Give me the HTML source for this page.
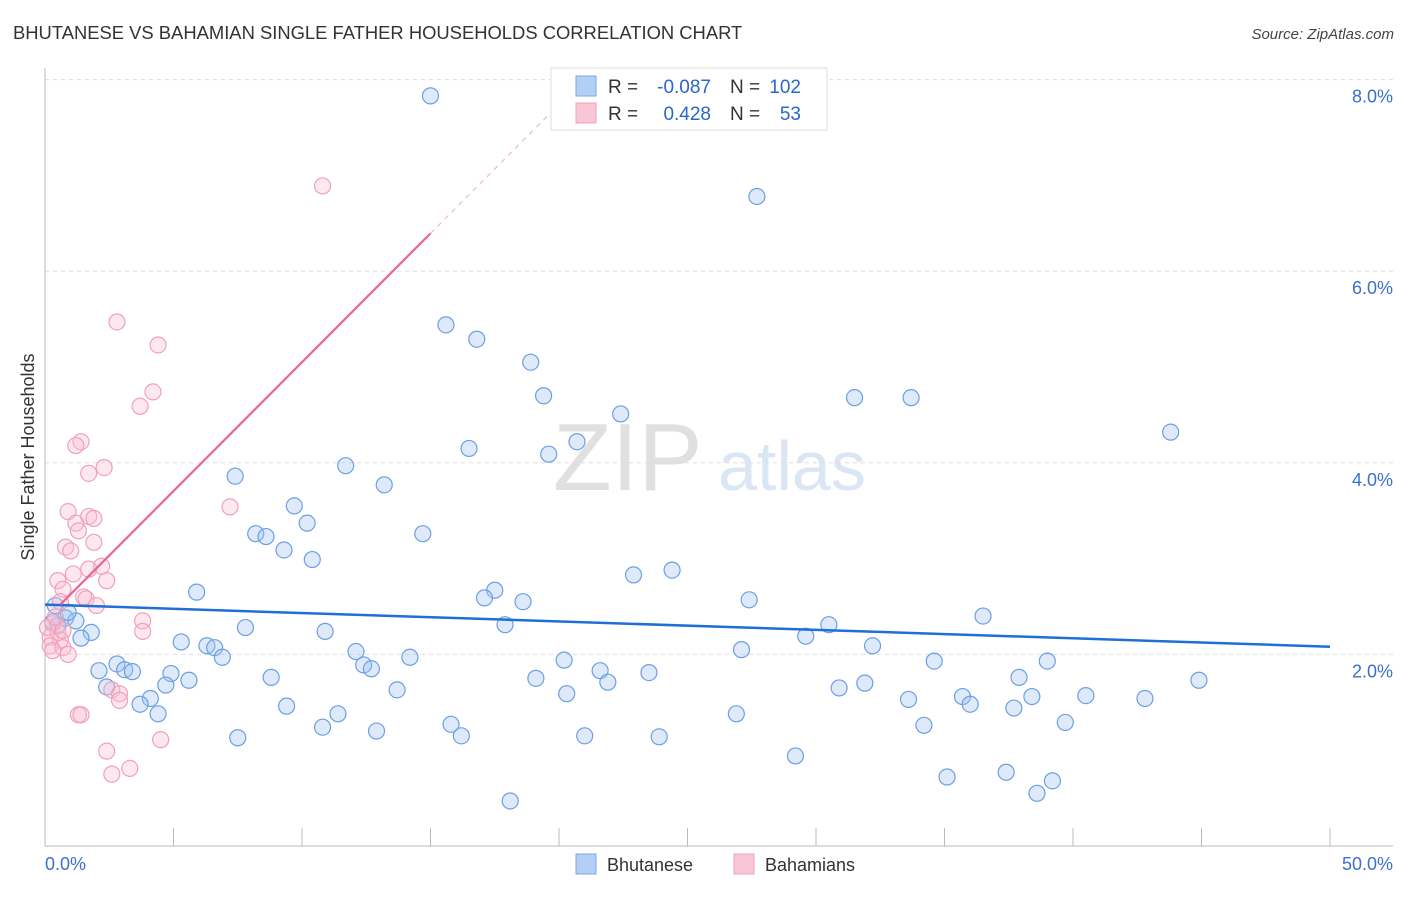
<!DOCTYPE html>
<html><head><meta charset="utf-8"><style>
body{margin:0;background:#fff;font-family:"Liberation Sans",sans-serif;}
svg text{font-family:"Liberation Sans",sans-serif;}
</style></head><body>
<svg id="chart" width="1406" height="892" xmlns="http://www.w3.org/2000/svg">
<text x="13" y="39" font-size="18.4" fill="#333">BHUTANESE VS BAHAMIAN SINGLE FATHER HOUSEHOLDS CORRELATION CHART</text>
<text x="1394" y="39" font-size="15" fill="#444" text-anchor="end" font-style="italic">Source: ZipAtlas.com</text>
<text x="553" y="490" font-size="96" fill="#e0e0e0" font-family="Liberation Serif">ZIP</text>
<text x="718" y="490" font-size="70" fill="#dbe6f5">atlas</text>
<g id="grid"></g>
<g id="axes"></g>
<text transform="translate(34,457) rotate(-90)" font-size="18" fill="#333" text-anchor="middle">Single Father Households</text>
<g id="points"></g>
<g id="trends"></g>
<g>
<rect x="551" y="68" width="276" height="62" fill="#fff" stroke="#ddd"/>
<rect x="576" y="76" width="20" height="20" fill="#b3cff5" stroke="#7aa8e8"/>
<rect x="576" y="103" width="20" height="20" fill="#f9c6d6" stroke="#f0a0bc"/>
<text x="608" y="93" font-size="19" fill="#333">R =</text>
<text x="711" y="93" font-size="19" fill="#2a66cc" text-anchor="end">-0.087</text>
<text x="730" y="93" font-size="19" fill="#333">N =</text>
<text x="801" y="93" font-size="19" fill="#2a66cc" text-anchor="end">102</text>
<text x="608" y="120" font-size="19" fill="#333">R =</text>
<text x="711" y="120" font-size="19" fill="#2a66cc" text-anchor="end">0.428</text>
<text x="730" y="120" font-size="19" fill="#333">N =</text>
<text x="801" y="120" font-size="19" fill="#2a66cc" text-anchor="end">53</text>
</g>
<g>
<rect x="576" y="854" width="20" height="20" fill="#b3cff5" stroke="#7aa8e8"/>
<text x="607" y="871" font-size="18" fill="#333">Bhutanese</text>
<rect x="734" y="854" width="20" height="20" fill="#f9c6d6" stroke="#f0a0bc"/>
<text x="765" y="871" font-size="18" fill="#333">Bahamians</text>
</g>
</svg>
<script>
const yTicks=[2,4,6,8];
const yTickLabels=["2.0%","4.0%","6.0%","8.0%"];
const xTickLabels=["0.0%","50.0%"];
const blueX=[15.0,27.7,15.6,16.8,18.9,19.4,31.5,33.7,22.4,43.8,20.7,16.5,19.6,11.7,7.4,13.2,9.7,10.2,8.2,8.6,14.7,9.3,10.4,24.4,22.9,17.5,17.1,18.6,27.4,5.9,36.5,17.9,30.5,7.8,10.9,29.6,5.3,32.2,6.3,6.6,27.1,6.9,12.1,14.2,20.2,34.6,39.0,12.4,12.7,21.6,23.5,4.9,2.8,2.1,3.1,3.4,8.8,19.1,5.6,21.9,37.9,44.9,4.7,2.4,13.7,31.9,30.9,20.3,4.1,40.5,38.4,35.7,33.6,42.8,3.7,36.0,9.4,37.7,4.4,11.4,26.9,39.7,10.8,15.8,34.2,12.9,16.2,7.5,21.0,23.9,29.2,35.1,37.4,39.2,38.6,18.1,0.4,0.8,1.2,0.3,0.5,1.8,1.4,0.9];
const blueY=[7.83,6.78,5.44,5.29,5.05,4.70,4.68,4.68,4.51,4.32,4.22,4.15,4.09,3.97,3.86,3.77,3.55,3.37,3.26,3.23,3.26,3.09,2.99,2.88,2.83,2.67,2.59,2.55,2.57,2.65,2.40,2.31,2.31,2.28,2.24,2.19,2.13,2.09,2.09,2.07,2.05,1.97,2.03,1.97,1.94,1.93,1.93,1.89,1.85,1.83,1.81,1.80,1.90,1.83,1.84,1.82,1.76,1.75,1.73,1.71,1.76,1.73,1.68,1.66,1.63,1.70,1.65,1.59,1.54,1.57,1.56,1.56,1.53,1.54,1.48,1.48,1.46,1.44,1.38,1.38,1.38,1.29,1.24,1.27,1.26,1.20,1.15,1.13,1.15,1.14,0.94,0.72,0.77,0.68,0.55,0.47,2.51,2.38,2.35,2.34,2.30,2.23,2.17,2.44];
const pinkX=[10.8,2.8,4.4,4.2,3.7,1.4,1.2,2.3,1.7,7.2,0.9,1.7,1.9,1.2,1.3,1.9,0.8,1.0,2.2,1.7,1.1,2.4,0.5,0.7,1.5,1.6,0.6,2.0,3.8,3.8,0.3,0.5,0.2,0.6,0.2,0.7,0.3,0.9,2.6,2.9,2.9,1.3,1.4,4.5,2.4,3.3,2.6,0.7,0.1,0.4];
const pinkY=[6.89,5.47,5.23,4.74,4.59,4.22,4.18,3.95,3.89,3.54,3.49,3.44,3.42,3.37,3.29,3.17,3.12,3.08,2.92,2.89,2.84,2.77,2.77,2.68,2.60,2.58,2.55,2.51,2.35,2.24,2.32,2.23,2.18,2.15,2.09,2.07,2.04,2.00,1.63,1.59,1.52,1.37,1.37,1.11,0.99,0.81,0.75,2.25,2.28,2.39];
const blueTrend=[2.52,2.08];
const pinkTrend=[2.36,0.269];
const NS="http://www.w3.org/2000/svg";
const xs=v=>45+v*25.7, ys=v=>846-v*95.8;
function mk(tag,attrs,parent){const e=document.createElementNS(NS,tag);for(const k in attrs)e.setAttribute(k,attrs[k]);parent.appendChild(e);return e;}
const grid=document.getElementById('grid'),axes=document.getElementById('axes'),pts=document.getElementById('points'),tr=document.getElementById('trends');
yTicks.forEach((t,i)=>{
 const l=mk('line',{x1:45,x2:1393,y1:ys(t),y2:ys(t),stroke:'#ddd','stroke-dasharray':'4,4'},grid);
 
 
 const tx=mk('text',{x:1393,y:ys(t)+23,'font-size':18,fill:'#3a70cc','text-anchor':'end'},axes);
 tx.textContent=yTickLabels[i];
 
 
});
mk('line',{x1:45,x2:45,y1:68,y2:846,stroke:'#bbb'},axes);
mk('line',{x1:45,x2:1393,y1:846,y2:846,stroke:'#bbb'},axes);
for(let i=0;i<=10;i++){const x=xs(i*5);const t=mk('line',{x1:x,x2:x,y1:828,y2:846,stroke:'#bbb'},axes);
 
 }
const xl0=mk('text',{x:45,y:870,'font-size':18,fill:'#3a70cc'},axes);xl0.textContent=xTickLabels[0];


const xl1=mk('text',{x:1393,y:870,'font-size':18,fill:'#3a70cc','text-anchor':'end'},axes);xl1.textContent=xTickLabels[1];


blueX.forEach((v,i)=>{const c=mk('circle',{cx:xs(v),cy:ys(blueY[i]),r:8,fill:'rgba(160,195,240,0.35)',stroke:'#6c9fe2','stroke-width':1.2},pts);
 
 });
pinkX.forEach((v,i)=>{const c=mk('circle',{cx:xs(v),cy:ys(pinkY[i]),r:8,fill:'rgba(248,190,210,0.35)',stroke:'#f0a0bc','stroke-width':1.2},pts);
 
 });
const bl=mk('line',{x1:xs(0),y1:ys(blueTrend[0]),x2:xs(50),y2:ys(blueTrend[1]),stroke:'#1f6fd6','stroke-width':2.5},tr);


const pl=mk('line',{x1:xs(0.6),y1:ys(pinkTrend[0]+pinkTrend[1]*0.6),x2:xs(15),y2:ys(pinkTrend[0]+pinkTrend[1]*15),stroke:'#f06292','stroke-width':2.2},tr);


const xe=(8.0-pinkTrend[0])/pinkTrend[1];
const pd=mk('line',{x1:xs(15),y1:ys(pinkTrend[0]+pinkTrend[1]*15),x2:xs(xe),y2:ys(8.0),stroke:'#f3a8c0','stroke-width':1,'stroke-dasharray':'5,5'},tr);


</script>
</body></html>
